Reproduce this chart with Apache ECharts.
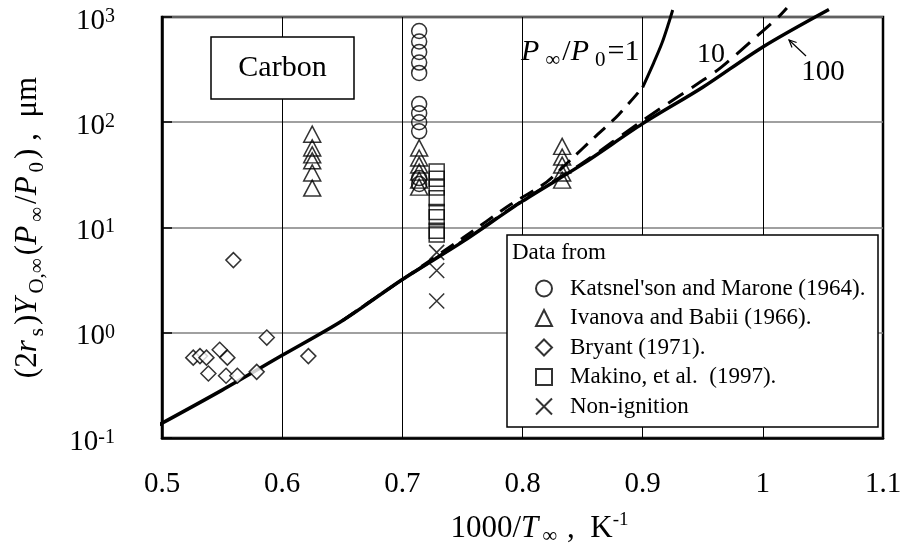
<!DOCTYPE html>
<html>
<head>
<meta charset="utf-8">
<script src="https://cdn.jsdelivr.net/npm/echarts@6/dist/echarts.min.js"></script>
<style>
html, body { margin: 0; padding: 0; background: #fff; }
#main { width: 901px; height: 551px; }
</style>
</head>
<body>
<div id="main"></div>
<script>
// tick labels
const xTickLabels = ["0.5", "0.6", "0.7", "0.8", "0.9", "1", "1.1"];
const yTickExps = ["-1", "0", "1", "2", "3"];

// P∞/P0 = 100 (solid)
const p100X = [0.493, 0.55, 0.6, 0.65, 0.7, 0.75, 0.8, 0.85, 0.9, 0.95, 1.0, 1.055];
const p100Y = [0.125, 0.285, 0.61, 1.3, 3.2, 7.3, 17.8, 40, 97, 215, 520, 1180];

// P∞/P0 = 10 (dashed)
const p10X = [0.65, 0.7, 0.75, 0.8, 0.85, 0.9, 0.95, 0.965, 0.99, 1.0125, 1.02];
const p10Y = [1.3, 3.2, 7.4, 18, 41, 104, 250, 330, 585, 990, 1220];

// P∞/P0 = 1 (dashed, then steep branch)
const p1X = [0.65, 0.7, 0.75, 0.79, 0.82, 0.84, 0.86, 0.88, 0.9];
const p1Y = [1.3, 3.2, 7.9, 16.5, 27, 44, 72, 118, 215];
const p1TopX = [0.9, 0.909, 0.916, 0.9216, 0.925];
const p1TopY = [215, 363, 562, 871, 1166];

// Katsnel'son and Marone (1964)
const katsX = [0.714, 0.714, 0.714, 0.714, 0.714, 0.714, 0.714, 0.714, 0.714, 0.714, 0.714];
const katsY = [736, 585, 465, 369, 294, 149, 122, 100, 82, 29.5, 25.9];

// Ivanova and Babii (1966)
const ivanX = [0.625, 0.625, 0.625, 0.625, 0.625, 0.625,
  0.714, 0.714, 0.714, 0.714, 0.714, 0.714,
  0.833, 0.833, 0.833, 0.833, 0.833];
const ivanY = [77, 57, 49, 43, 33, 23.7,
  57, 45.7, 39.2, 33.6, 28.2, 24.2,
  59, 46.7, 39.2, 32.9, 28.2];

// Bryant (1971)
const bryX = [0.526, 0.5316, 0.537, 0.548, 0.5544, 0.5386, 0.5533, 0.5627, 0.5788, 0.5872, 0.6218, 0.5594];
const bryY = [0.58, 0.6, 0.58, 0.69, 0.58, 0.41, 0.39, 0.39, 0.425, 0.9, 0.6, 4.9];

// Makino, et al. (1997)
const makX = [0.7286, 0.7286, 0.7286, 0.7286, 0.7286, 0.7286, 0.7286, 0.7286];
const makY = [34, 29, 24, 19, 14, 12.5, 9.3, 8.6];

// Non-ignition
const nonX = [0.7286, 0.7286, 0.7286];
const nonY = [5.8, 3.9, 2.0];

const FONT = "Liberation Serif";

function pts(xs, ys) {
  return xs.map((x, i) => [x, ys[i]]);
}

const hollow = {
  color: "rgba(0,0,0,0)",
  borderColor: "#000",
  borderWidth: 1.5,
};

const chart = echarts.init(document.getElementById("main"));

const options = {
  animation: false,
  grid: {
    left: 162,
    right: 18,
    top: 17,
    bottom: 113,
    show: true,
    borderColor: "#000",
    borderWidth: 2.5,
    outerBoundsMode: "none",
  },
  legend: {
    orient: "vertical",
    left: 530,
    top: 272,
    z: 10,
    itemWidth: 16,
    itemHeight: 16,
    itemGap: 6.5,
    selectedMode: false,
    textStyle: {
      fontFamily: FONT,
      fontSize: 23,
      color: "#000",
      padding: [0, 0, 0, 13],
    },
    data: [
      "Katsnel'son and Marone (1964).",
      "Ivanova and Babii (1966).",
      "Bryant (1971).",
      "Makino, et al.  (1997).",
      "Non-ignition",
    ],
  },
  xAxis: {
    type: "value",
    min: 0.5,
    max: 1.1,
    interval: 0.1,
    axisLine: { show: true, lineStyle: { color: "#000", width: 2.5 } },
    axisTick: { show: true, inside: true, length: 10, lineStyle: { color: "#000", width: 1 } },
    splitLine: { show: true, lineStyle: { color: "#000", width: 1 } },
    axisLabel: {
      margin: 32,
      fontFamily: FONT,
      fontSize: 29,
      color: "#000",
      formatter: (v, i) => xTickLabels[i],
    },
    name: "{n|1000/}{i|T}{sub|∞}{n| ,  K}{sup|-1}",
    nameLocation: "middle",
    nameGap: 73,
    nameTextStyle: {
      padding: [0, 0, 0, 34],
      rich: {
        n: { fontFamily: FONT, fontSize: 31, color: "#000", lineHeight: 36 },
        i: { fontFamily: FONT, fontSize: 31, fontStyle: "italic", color: "#000", lineHeight: 36 },
        sub: { fontFamily: FONT, fontSize: 21, color: "#000", verticalAlign: "bottom", lineHeight: 21, padding: [0, 2, 0, 4] },
        sup: { fontFamily: FONT, fontSize: 19, color: "#000", verticalAlign: "top", lineHeight: 19 },
      },
    },
  },
  yAxis: {
    type: "log",
    logBase: 10,
    min: 0.1,
    max: 1000,
    axisLine: { show: true, lineStyle: { color: "#000", width: 2.5 } },
    axisTick: { show: true, inside: true, length: 10, lineStyle: { color: "#000", width: 1.5 } },
    minorTick: { show: false },
    splitLine: { show: true, lineStyle: { color: "#808080", width: 1.5 } },
    axisLabel: {
      margin: 47,
      formatter: (v, i) => "{b|10}{s|" + yTickExps[i] + "}",
      rich: {
        b: { fontFamily: FONT, fontSize: 29, color: "#000", lineHeight: 29, padding: [8, 0, 0, 0] },
        s: { fontFamily: FONT, fontSize: 20, color: "#000", lineHeight: 20, verticalAlign: "top", padding: [4, 0, 0, 0] },
      },
    },
    name: "{n|(2}{i|r}{sub|s}{n|)}{i|Y}{sub|O,∞}{n|(}{i|P}{sub|∞}{n|/}{i|P}{sub|0}{n|) ,  μm}",
    nameLocation: "middle",
    nameRotate: 90,
    nameGap: 114,
    nameTextStyle: {
      rich: {
        n: { fontFamily: FONT, fontSize: 31, color: "#000", lineHeight: 40 },
        i: { fontFamily: FONT, fontSize: 31, fontStyle: "italic", color: "#000", lineHeight: 40 },
        sub: { fontFamily: FONT, fontSize: 21, color: "#000", verticalAlign: "bottom", lineHeight: 21, padding: [0, 3, 0, 4] },
      },
    },
  },
  series: [
    {
      name: "P100",
      type: "line",
      data: pts(p100X, p100Y),
      showSymbol: false,
      smooth: 0.3,
      clip: false,
      silent: true,
      z: 3,
      lineStyle: { color: "#000", width: 3.5 },
    },
    {
      name: "P10",
      type: "line",
      data: pts(p10X, p10Y),
      showSymbol: false,
      smooth: 0.3,
      clip: false,
      silent: true,
      z: 3,
      lineStyle: { color: "#000", width: 3, type: [18, 10] },
    },
    {
      name: "P1",
      type: "line",
      data: pts(p1X, p1Y),
      showSymbol: false,
      smooth: 0.3,
      clip: false,
      silent: true,
      z: 3,
      lineStyle: { color: "#000", width: 3, type: [15, 9] },
    },
    {
      name: "P1top",
      type: "line",
      data: pts(p1TopX, p1TopY),
      showSymbol: false,
      smooth: 0.3,
      clip: false,
      silent: true,
      z: 3,
      lineStyle: { color: "#000", width: 3 },
    },
    {
      name: "Katsnel'son and Marone (1964).",
      type: "scatter",
      symbol: "circle",
      symbolSize: 15,
      silent: true,
      z: 4,
      itemStyle: hollow,
      data: pts(katsX, katsY),
    },
    {
      name: "Ivanova and Babii (1966).",
      type: "scatter",
      symbol: "triangle",
      symbolSize: [17, 16],
      silent: true,
      z: 4,
      itemStyle: hollow,
      data: pts(ivanX, ivanY),
    },
    {
      name: "Bryant (1971).",
      type: "scatter",
      symbol: "diamond",
      symbolSize: 15,
      silent: true,
      z: 4,
      itemStyle: { color: "#fff", borderColor: "#000", borderWidth: 1.5 },
      data: pts(bryX, bryY),
    },
    {
      name: "Makino, et al.  (1997).",
      type: "scatter",
      symbol: "rect",
      symbolSize: 15,
      silent: true,
      z: 4,
      itemStyle: hollow,
      data: pts(makX, makY),
    },
    {
      name: "Non-ignition",
      type: "scatter",
      symbol: "path://M0,0L10,10M10,0L0,10",
      symbolSize: 15,
      silent: true,
      z: 4,
      itemStyle: hollow,
      data: pts(nonX, nonY),
    },
  ],
  graphic: [
    {
      type: "rect",
      z: 5,
      shape: { x: 211, y: 37, width: 143, height: 62 },
      style: { fill: "#fff", stroke: "#000", lineWidth: 1.5 },
    },
    {
      type: "text",
      z: 6,
      x: 282.5,
      y: 68,
      style: { text: "Carbon", fontFamily: FONT, fontSize: 30, fill: "#000", align: "center", verticalAlign: "middle" },
    },
    {
      type: "rect",
      z: 5,
      shape: { x: 507, y: 235, width: 371, height: 192 },
      style: { fill: "#fff", stroke: "#000", lineWidth: 1.5 },
    },
    {
      type: "text",
      z: 6,
      x: 512,
      y: 253,
      style: { text: "Data from", fontFamily: FONT, fontSize: 23, fill: "#000", align: "left", verticalAlign: "middle" },
    },
    {
      type: "text",
      z: 6,
      x: 521,
      y: 52,
      style: {
        text: "{i|P}{sub|∞}{n|/}{i|P}{sub|0}{n|=1}",
        align: "left",
        verticalAlign: "middle",
        rich: {
          n: { fontFamily: FONT, fontSize: 30, fill: "#000", lineHeight: 38 },
          i: { fontFamily: FONT, fontSize: 30, fontStyle: "italic", fill: "#000", lineHeight: 38 },
          sub: { fontFamily: FONT, fontSize: 21, fill: "#000", verticalAlign: "bottom", lineHeight: 21, padding: [0, 2, 0, 6] },
        },
      },
    },
    {
      type: "text",
      z: 6,
      x: 711,
      y: 55,
      style: { text: "10", fontFamily: FONT, fontSize: 28, fill: "#000", align: "center", verticalAlign: "middle" },
    },
    {
      type: "text",
      z: 6,
      x: 823,
      y: 72,
      style: { text: "100", fontFamily: FONT, fontSize: 29, fill: "#000", align: "center", verticalAlign: "middle" },
    },
    {
      type: "line",
      z: 6,
      shape: { x1: 806, y1: 56, x2: 789, y2: 40 },
      style: { stroke: "#000", lineWidth: 1.2 },
    },
    {
      type: "polyline",
      z: 6,
      shape: { points: [[792, 47.4], [789, 40], [796.6, 42.5]] },
      style: { stroke: "#000", lineWidth: 1.2, fill: null },
    },
  ],
};

chart.setOption(options);

window.addEventListener("resize", () => {
  chart.resize();
});
</script>
</body>
</html>
